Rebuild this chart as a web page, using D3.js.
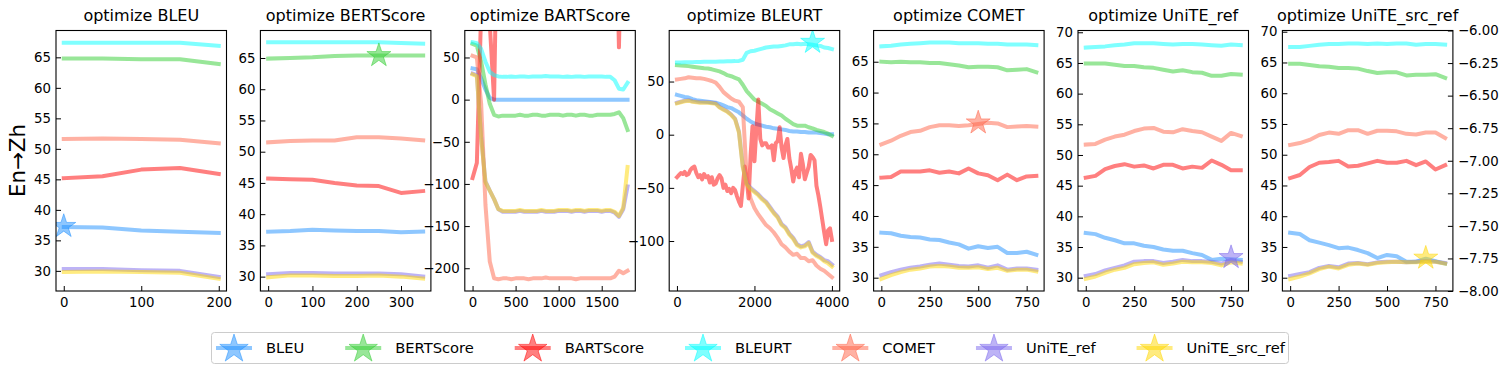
<!DOCTYPE html>
<html><head><meta charset="utf-8">
<script src="https://cdn.jsdelivr.net/npm/d3@7"></script>
<style>body{margin:0;background:#fff}svg{display:block}text{font-family:"DejaVu Sans",sans-serif;fill:#000}</style>
</head><body><svg id="c" width="1510" height="372"></svg>
<script>
// ---------- data ----------
const metrics = ["BLEU","BERTScore","BARTScore","BLEURT","COMET","UniTE_ref","UniTE_src_ref"];
const colors  = ["#1E90FF","#32CD32","#FF0000","#00FFFF","#FF6347","#7B68EE","#FFD700"];
const titles  = ["optimize BLEU","optimize BERTScore","optimize BARTScore","optimize BLEURT","optimize COMET","optimize UniTE_ref","optimize UniTE_src_ref"];
const yLabel = "En\u2192Zh";

// x grids
const xBLEU = [0,50,100,150,200];
const xBERT = [0,50,100,150,200,250,300,350];
const xBART = d3.range(0,1801,50);
const xBLEURT = d3.range(0,4001,100);
const xBLEURTfine = d3.range(0,4001,50);
const xSmall = [0,50,100,150,200,250,300,350,400,450,500,550,600,650,700,750,800];

// optimize BLEU (series order = metrics)
const optBLEU = [
 [37.2,37.1,36.6,36.4,36.2],
 [64.8,64.8,64.7,64.7,63.9],
 [45.2,45.5,46.6,46.85,45.9],
 [67.4,67.4,67.4,67.4,66.9],
 [51.6,51.7,51.6,51.5,50.9],
 [30.3,30.3,30.1,30.0,29.0],
 [29.8,29.9,29.8,29.7,28.7]
];
// optimize BERTScore
const optBERT = [
 [37.2,37.3,37.5,37.4,37.3,37.3,37.1,37.2],
 [64.9,65.0,65.1,65.3,65.4,65.4,65.4,65.4],
 [45.7,45.6,45.5,45.0,44.6,44.5,43.4,43.7],
 [67.5,67.5,67.5,67.5,67.5,67.5,67.4,67.3],
 [51.5,51.7,51.8,51.8,52.3,52.3,52.1,51.8],
 [30.4,30.6,30.6,30.5,30.5,30.5,30.4,30.0],
 [29.9,30.2,30.2,30.1,30.1,30.2,30.0,29.7]
];
// optimize BARTScore
const optBART = [
 [37,36,25,12,2,0,0,0,0,0,0,0,0,0,0,0,0,0,0,0,0,0,0,0,0,0,0,0,0,0,0,0,0,0,0,0,0],
 [66,64,45,18,-5,-18,-20,-19,-19,-19,-19,-18,-19,-19,-18,-18,-19,-19,-18,-18,-18,-19,-18,-18,-19,-18,-18,-19,-19,-18,-18,-18,-18,-17,-15,-22,-36],
 [-93,-75,105,300,90,0,300,300,300,300,300,300,300,300,300,300,300,300,300,300,300,300,300,300,300,300,300,300,300,300,300,300,300,300,62,300,300],
 [68,67,60,45,33,29,27.5,27,27,27.5,27,27.5,27.5,27,27.5,27.5,27.5,28,27.5,27.5,27.5,27,27.5,27,27.5,27.5,27,27.5,27.5,27.5,27.5,27,27,23,13,12,20],
 [52,50,-5,-125,-192,-212,-213,-212,-212,-213,-212,-212,-212,-213,-212,-212,-212,-211,-212,-212,-212,-212,-212,-212,-213,-212,-212,-212,-212,-212,-212,-212,-212,-210,-203,-206,-203],
 [31,29,-45,-97,-108,-118,-130,-133,-133,-133,-133,-132,-133,-133,-133,-133,-132,-133,-133,-133,-132,-132,-132,-133,-132,-132,-133,-132,-132,-132,-133,-132,-132,-134,-139,-130,-103],
 [30,28,-46,-98,-108,-118,-130,-132,-132,-132,-132,-131,-132,-132,-132,-132,-131,-132,-132,-132,-131,-131,-131,-132,-131,-131,-132,-131,-131,-131,-132,-131,-131,-133,-138,-128,-80]
];
// optimize BLEURT (BARTScore series on the finer grid)
const optBLEURT = [
 [37.5,36.5,35.5,35,33.5,32.5,32,31.5,31,30.5, 30,29,27.5,26,25,23,21,18,15,12.5, 10.5,9.5,8.5,7.5,7,6,5.5,5,4.5,3.5, 3,3,2.5,2.5,2,2,2,1.5,1,0.5, 0.5],
 [65.3,65,64.8,64.5,64,63.5,63,62.5,62.2,61.5, 60.5,59.5,58,56,55,53.5,52,47,41,37, 33,31,29,27,24,22,20,18,15,12.5, 10,8.5,8.5,8.5,7,6,4.5,3.5,2.5,1, -1],
 [-40,-38,-36,-37,-35,-38,-37,-33,-31,-30, -36,-40,-38,-42,-37,-40,-39,-45,-40,-47,
  -46,-41,-38,-41,-50,-47,-53,-51,-55,-50, -52,-58,-63,-67,-48,-30,-42,-60,-20,8,
  -25,5,33,-4,-10,-8,-8,-12,-12,-10, -24,-8,-6,7,-12,-22,-10,-4,-22,-32,
  -44,-35,-31,-40,-18,-28,-42,-36,-30,-19, -21,-24,-48,-57,-68,-80,-92,-103,-90,-88, -99],
 [68,68,68.1,68.2,68.2,68.3,68.4,68.5,68.5,68.6, 68.7,68.8,68.9,69,69.1,69.2,69.4,70.5,77,78.5, 79,80,81,82,82.5,83,83,83.5,84,85, 85,85.5,85,85.5,85,84.5,84,83.5,82,81.5, 80.5],
 [52,52.5,53,54,53.5,53,53,52.5,51.5,50.5, 49,45,40,37,34,32,31,26,-40,-60, -69,-75,-80,-85,-88,-92,-97,-103,-106,-110, -113,-112,-116,-116,-119,-118,-123,-126,-128,-131, -134],
 [30,31,32,32.5,31.5,31,30.5,30.5,30.5,30, 29.5,26,24,22,19,15,3,-30,-46,-50, -53,-56,-60,-63,-68,-73,-77,-84,-87,-93, -97,-103,-105,-104,-101,-110,-113,-115,-118,-119, -122],
 [29.5,30.5,31.5,32,31,30.5,30,30,30,29.5, 29,25.5,23.5,21.5,18.5,14.5,2,-31,-47,-51, -54,-57,-61,-64,-69,-74,-78,-85,-88,-94, -98,-104,-106,-105,-102,-111,-114,-116,-119,-121, -124]
];
// optimize COMET
const optCOMET = [
 [37.3,37.2,36.8,36.6,36.5,36.2,36.1,35.7,35.4,34.7,35.1,34.8,35.0,34.0,34.0,34.2,33.7],
 [65.0,64.9,65.0,64.9,64.9,64.8,64.8,64.6,64.4,64.1,64.2,64.2,64.1,63.6,63.7,63.8,63.3],
 [46.2,46.3,47.2,47.2,47.2,47.4,47.0,47.2,46.9,47.7,46.9,46.6,45.8,46.7,45.8,46.4,46.5],
 [67.5,67.6,67.8,67.9,68.0,68.1,68.1,68.1,68.0,68.0,68.0,67.9,67.9,67.8,67.8,67.8,67.7],
 [51.6,52.2,53.0,53.6,53.8,54.4,54.7,54.7,54.6,54.7,54.9,55.1,55.0,54.4,54.5,54.6,54.5],
 [30.4,30.9,31.3,31.6,31.8,32.1,32.3,32.1,31.9,31.8,32.0,31.6,32.0,31.3,31.5,31.5,31.3],
 [29.8,30.4,30.9,31.3,31.5,31.8,31.9,31.8,31.6,31.6,31.7,31.4,31.6,31.1,31.3,31.3,31.0]
];
// optimize UniTE_ref
const optUniTEref = [
 [37.3,37.1,36.5,36.1,35.6,35.6,35.2,35.0,34.6,34.4,34.4,34.0,33.7,32.9,33.1,33.0,32.9],
 [64.9,64.9,64.9,64.7,64.5,64.5,64.3,64.2,63.9,63.6,63.8,63.5,63.4,62.9,62.9,63.2,63.1],
 [46.3,46.6,47.7,48.2,48.5,48.1,48.3,47.8,48.4,48.4,47.8,48.1,47.9,49.1,48.4,47.5,47.5],
 [67.5,67.6,67.7,67.9,68.0,68.2,68.2,68.2,68.1,68.0,68.1,68.1,68.0,67.9,67.8,68.0,67.9],
 [51.7,51.8,52.5,53.0,53.3,53.9,54.3,54.4,53.8,53.7,54.2,53.9,53.7,53.0,52.3,53.6,53.1],
 [30.3,30.6,31.2,31.6,32.0,32.6,32.7,32.7,32.4,32.6,32.9,32.7,32.7,32.6,32.3,32.9,32.6],
 [29.8,30.2,30.8,31.3,31.6,32.2,32.4,32.5,32.1,32.3,32.6,32.5,32.5,32.4,32.0,32.5,32.3]
];
// optimize UniTE_src_ref
const optUniTEsrc = [
 [37.3,37.1,36.1,35.7,35.3,34.8,34.9,34.5,34.0,33.2,33.7,33.5,32.6,32.6,33.1,32.7,32.3],
 [64.8,64.8,64.6,64.4,64.3,64.1,64.1,64.0,63.6,63.3,63.4,63.4,62.9,63.0,63.0,63.1,62.5],
 [46.2,46.7,48.0,48.7,48.8,49.0,48.1,48.2,48.6,49.0,48.7,48.7,49.0,48.3,48.9,47.6,48.3],
 [67.5,67.5,67.7,67.9,68.0,68.0,68.1,68.1,68.0,68.1,68.0,68.1,68.1,67.9,68.0,68.0,67.9],
 [51.6,51.9,52.4,53.2,53.6,53.4,54.0,54.0,53.4,53.9,53.9,53.8,53.4,53.3,53.6,53.6,52.7],
 [30.3,30.6,30.9,31.6,31.9,31.7,32.3,32.4,32.2,32.5,32.6,32.6,32.5,32.6,32.7,32.6,32.4],
 [29.8,30.2,30.7,31.4,31.8,31.5,32.1,32.3,32.1,32.4,32.5,32.6,32.5,32.5,32.6,32.6,32.3]
];
// best point (star) of the optimized metric in each panel
const starX = [0,250,1800,3500,500,750,700];
const starY = [37.3,65.4,300,87,55.1,33.3,33.2];

// ticks
const yTicksA = [30,35,40,45,50,55,60,65];
const yTicksB = [30,35,40,45,50,55,60,65,70];
const yTicksBART = [-200,-150,-100,-50,0,50];
const yTicksBLEURT = [-100,-50,0,50];
const rightTicks = [-8,-7.75,-7.5,-7.25,-7,-6.75,-6.5,-6.25,-6];

// ---------- layout ----------
(function(){
const svg = d3.select("#c");
const left0 = 56, step = 204.4, pw = 170.5, pTop = 30.5, pBot = 291;
const lw = 4, alpha = 0.5;

const panels = [
 {data:optBLEU, xs:Array(7).fill(xBLEU), xd:[-10,210], yd:[26.7,69.4], xt:[0,100,200], yt:yTicksA},
 {data:optBERT, xs:Array(7).fill(xBERT), xd:[-17.5,367.5], yd:[27.7,69.4], xt:[0,100,200,300], yt:yTicksA},
 {data:optBART, xs:Array(7).fill(xBART), xd:[-90,1890], yd:[-227,82], xt:[0,500,1000,1500], yt:yTicksBART},
 {data:optBLEURT, xs:[xBLEURT,xBLEURT,xBLEURTfine,xBLEURT,xBLEURT,xBLEURT,xBLEURT], xd:[-200,4200], yd:[-147,98], xt:[0,2000,4000], yt:yTicksBLEURT},
 {data:optCOMET, xs:Array(7).fill(xSmall), xd:[-40,840], yd:[27.84,70.06], xt:[0,250,500,750], yt:yTicksA},
 {data:optUniTEref, xs:Array(7).fill(xSmall), xd:[-40,840], yd:[27.83,70.29], xt:[0,250,500,750], yt:yTicksB},
 {data:optUniTEsrc, xs:Array(7).fill(xSmall), xd:[-40,840], yd:[27.84,70.2], xt:[0,250,500,750], yt:yTicksB}
];

const star = d3.symbol().type(d3.symbolStar);
const defs = svg.append("defs");

panels.forEach((p,i)=>{
  const x0 = left0 + i*step;
  const x = d3.scaleLinear().domain(p.xd).range([x0, x0+pw]);
  const y = d3.scaleLinear().domain(p.yd).range([pBot, pTop]);
  const g = svg.append("g");
  const cid = "clip"+i;
  defs.append("clipPath").attr("id",cid)
     .append("rect").attr("x",x0).attr("y",pTop).attr("width",pw).attr("height",pBot-pTop);
  const plot = g.append("g").attr("clip-path",`url(#${cid})`);
  const line = d3.line().x(d=>x(d[0])).y(d=>y(d[1]));
  p.data.forEach((vals,k)=>{
    const pts = vals.map((v,j)=>[p.xs[k][j], v]);
    plot.append("path").attr("d",line(pts)).attr("fill","none")
      .attr("stroke",colors[k]).attr("stroke-opacity",alpha).attr("stroke-width",lw)
      .attr("stroke-linejoin","round").attr("stroke-linecap","square");
  });
  plot.append("path").attr("d",star.size(178)())
    .attr("transform",`translate(${x(starX[i])},${y(starY[i])})`)
    .attr("fill",colors[i]).attr("fill-opacity",alpha)
    .attr("stroke",colors[i]).attr("stroke-opacity",alpha).attr("stroke-width",1);

  const ax = g.append("g").attr("transform",`translate(0,${pBot})`)
    .call(d3.axisBottom(x).tickValues(p.xt).tickFormat(d3.format("d")).tickSizeInner(-5).tickSizeOuter(0).tickPadding(7));
  const ay = g.append("g").attr("transform",`translate(${x0},0)`)
    .call(d3.axisLeft(y).tickValues(p.yt).tickFormat(d3.format("d")).tickSizeInner(-5).tickSizeOuter(0).tickPadding(5));
  [ax,ay].forEach(a=>{a.select(".domain").remove(); a.selectAll("text").attr("font-size",13.3).attr("font-family","DejaVu Sans");});
  if(i===6){
    const r = d3.scaleLinear().domain([-8,-6]).range([pBot, pTop]);
    const ar = g.append("g").attr("transform",`translate(${x0+pw},0)`)
      .call(d3.axisRight(r).tickValues(rightTicks).tickFormat(d3.format(".2f")).tickSizeInner(-5).tickSizeOuter(0).tickPadding(5));
    ar.select(".domain").remove(); ar.selectAll("text").attr("font-size",13.3).attr("font-family","DejaVu Sans");
  }
  g.append("rect").attr("x",x0).attr("y",pTop).attr("width",pw).attr("height",pBot-pTop)
    .attr("fill","none").attr("stroke","#000").attr("stroke-width",1.1);
  g.append("text").attr("x",x0+pw/2).attr("y",21).attr("text-anchor","middle")
    .attr("font-size",16).text(titles[i]);
});

svg.append("text").attr("transform","translate(25,160.5) rotate(-90)")
  .attr("text-anchor","middle").attr("font-size",21.3).text(yLabel);

// ---------- legend ----------
const lg = svg.append("g");
lg.append("rect").attr("x",211.5).attr("y",332.5).attr("width",1077).attr("height",31)
  .attr("rx",3).attr("fill","#fff").attr("stroke","#cccccc").attr("stroke-width",1);
const ly = 348;
const items = metrics.map((m,k)=>{
  const t = lg.append("text").attr("y",ly+5.3).attr("font-size",14.7).text(m);
  return {t, w:t.node().getComputedTextLength()};
});
const handle = 36, toText = 50, startX = 216, endX = 1285;
const totalW = d3.sum(items,d=>d.w) + items.length*toText;
const gap = (endX - startX - totalW)/(items.length-1);
let cx = startX;
items.forEach((it,k)=>{
  lg.append("line").attr("x1",cx).attr("x2",cx+handle).attr("y1",ly).attr("y2",ly)
    .attr("stroke",colors[k]).attr("stroke-opacity",alpha).attr("stroke-width",lw);
  lg.append("path").attr("d",star.size(250)()).attr("transform",`translate(${cx+handle/2},${ly+1})`)
    .attr("fill",colors[k]).attr("fill-opacity",alpha)
    .attr("stroke",colors[k]).attr("stroke-opacity",alpha).attr("stroke-width",1);
  it.t.attr("x",cx+toText);
  cx += toText + it.w + gap;
});
})();
</script></body></html>
